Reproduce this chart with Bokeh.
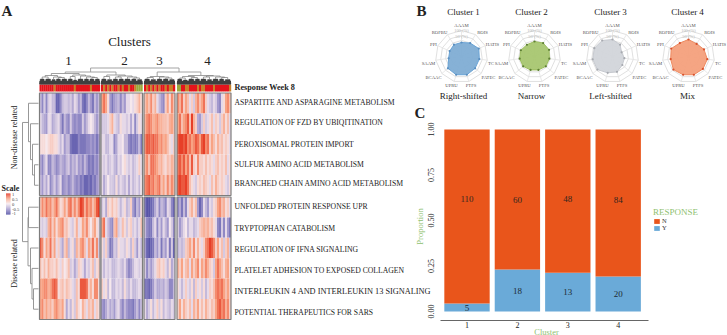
import math
import numpy as np
from bokeh.embed import file_html
from bokeh.resources import INLINE
from bokeh.plotting import figure
from bokeh.layouts import row
from bokeh.core.properties import value
from bokeh.models import (ColumnDataSource, FixedTicker, Legend, LegendItem, LinearAxis,
                          LinearColorMapper, Range1d, NumeralTickFormatter)
from bokeh.transform import transform

# ---------------------------------------------------------------- data
pathways_top = ["ASPARTITE AND ASPARAGINE METABOLISM", "REGULATION OF FZD BY UBIQITINATION",
                "PEROXISOMAL PROTEIN IMPORT", "SULFUR AMINO ACID METABOLISM",
                "BRANCHED CHAIN AMINO ACID METABOLISM"]
pathways_bottom = ["UNFOLDED PROTEIN RESPONSE UPR", "TRYPTOPHAN CATABOLISM", "REGULATION OF IFNA SIGNALING",
                   "PLATELET ADHESION TO EXPOSED COLLAGEN", "INTERLEUKIN 4 AND INTERLEUKIN 13 SIGNALING",
                   "POTENTIAL THERAPEUTICS FOR SARS"]

# enrichment score in tenths, one list per pathway, per cluster
c1_scores = [
 [-3,-6,-2,-6,-2,-1,-3,-3,-8,-8,-6,-3,-2,-2,-3,-2,-4,-1,-2,-5,-3,-7,-8,-6,-3,-5,-7,-3,-5,-3],
 [-1,-3,-4,-5,-1,-1,-4,-3,-2,-1,-4,-7,-3,-5,-6,-2,-5,-6,-5,-6,-6,-2,-5,-3,-1,0,-1,-3,-5,-3],
 [1,1,1,0,1,2,2,1,1,-1,-3,-1,-5,-3,-3,-7,-8,-8,-8,-6,-7,-7,-7,-6,-6,-5,-6,-5,-7,-5],
 [-4,-6,-3,-1,-6,-6,-3,-4,-6,-5,-3,-4,-5,-3,-2,-5,-3,-4,-2,-5,-4,-6,-3,-5,-7,-6,-7,-5,-6,-4],
 [-3,-5,-2,-4,-1,-6,-4,-2,-5,-3,-1,-6,-5,-4,-6,-5,-3,-5,-6,-5,-7,-6,-8,-8,-7,-8,-6,-7,-5,-4],
 [3,6,4,7,5,6,3,5,7,4,1,2,5,2,6,7,3,6,3,6,9,8,4,7,5,6,3,5,8,9],
 [-1,-2,-1,-2,4,6,2,5,1,4,5,6,2,3,1,-1,-2,1,4,-1,1,5,3,6,2,0,3,5,1,-1],
 [8,6,1,5,3,7,2,5,-1,2,-2,-4,2,4,-3,-1,1,-3,4,2,5,6,3,-1,5,3,7,2,6,-2],
 [3,1,3,1,4,2,2,1,3,1,-1,2,0,1,3,-2,-1,-4,-2,2,1,-1,-4,-1,-2,1,3,-2,1,2],
 [5,5,6,6,4,5,7,8,7,1,2,3,1,3,2,1,-1,-2,3,1,8,8,8,7,2,4,1,6,6,1],
 [5,6,3,5,3,4,2,5,6,4,3,5,1,-4,-1,-3,1,-2,3,1,0,4,2,-1,3,2,4,-1,2,1],
]
c2_scores = [
 [5,7,5,1,-5,-7,-5,-4,-3,-6,-3,-5,-1,-1,0,-1,1,2,4,1],
 [-2,-2,-2,-1,2,4,-1,-2,-3,1,-1,-1,-2,-1,-4,-1,-6,-2,1,-1],
 [-1,-1,-3,-3,-1,-1,-6,-4,-1,-1,0,-3,-3,-6,-7,-6,-7,-6,-3,-7],
 [-1,-2,-1,-3,-2,-1,-3,-4,-1,-2,0,1,-1,-2,-1,-3,-2,-1,2,-1],
 [-1,-4,-2,0,-2,-2,-3,1,-3,-1,-2,-3,-1,-4,-1,-3,-2,-1,-3,0],
 [-2,-1,-4,2,1,3,1,2,-1,-3,-1,1,-3,-2,2,-5,-7,-3,-5,1],
 [5,7,-1,-3,-5,-6,3,5,-2,-1,3,1,-2,1,2,-2,-1,-3,-1,3],
 [1,-2,2,-3,-7,-6,-2,-3,1,-1,-1,-2,1,-1,-3,2,-2,-5,-1,-3],
 [-1,-3,-1,-2,-1,-3,-3,-2,-1,-2,-3,-1,-4,-6,-5,-3,-1,-1,-2,-1],
 [2,-1,1,-3,0,-3,-3,-1,-2,-1,-3,1,-2,-3,-1,-3,-3,-2,-1,-2],
 [-5,-6,-4,-2,-4,-3,-5,-2,-1,-4,-6,-3,-5,-6,-6,-7,-5,-3,-6,-3],
]
c3_scores = [
 [3,5,3,6,2,4,-1,-3,-5,-6,2,5,1,6,3],
 [4,6,7,6,4,5,6,4,4,3,3,2,4,5,3],
 [6,8,8,7,8,7,7,5,6,4,5,3,1,-1,2],
 [4,6,3,7,7,6,5,3,4,2,1,3,2,4,3],
 [6,7,8,6,7,5,6,7,3,5,2,6,3,6,4],
 [-7,-9,-9,-8,-7,-4,-2,-6,-3,-4,-6,-1,-2,-6,-8],
 [-3,-6,-7,-7,-3,-1,-6,-2,-5,-1,-3,-5,0,-2,-6],
 [-5,-8,-9,-8,-7,-3,-5,-2,-7,-3,-5,-1,-7,-2,-8],
 [-2,-6,-3,-5,-3,-1,2,3,1,2,-1,-3,1,-4,-2],
 [-7,-7,-8,-7,-5,-2,-4,-4,-3,-4,-2,-3,-6,-6,-3],
 [-1,-4,-2,1,-3,-1,2,-2,1,-3,-1,-2,-3,-1,-2],
]
c4_scores = [
 [6,4,7,2,5,3,-1,2,-2,4,6,3,5,7,2,-1,-2,-3,-1,-2,-5,-6,-1,1,5,6,3],
 [5,7,3,5,6,8,3,9,4,2,-4,-5,-2,2,-2,-1,1,3,-1,2,1,-2,2,4,1,3,-1],
 [8,9,9,8,9,6,7,5,6,8,7,5,8,9,6,7,2,5,3,1,4,2,3,1,2,1,-1],
 [7,8,6,8,5,7,3,8,2,1,6,2,2,1,3,1,2,1,-1,2,3,1,2,1,3,-1,1],
 [8,9,8,8,9,7,3,1,-1,-2,1,2,1,3,2,1,-1,3,1,4,2,1,2,1,-1,-2,1],
 [-6,-4,-7,-3,-6,-1,2,4,1,3,-5,-8,-6,-1,-3,-5,-1,-2,1,2,5,6,3,4,1,2,-1],
 [-2,-5,-3,-1,0,-3,-1,-1,-3,-2,-1,2,3,4,3,4,2,3,1,-1,-6,-7,-2,-6,-1,-5,-7],
 [-3,-2,-3,-2,2,3,5,2,6,1,4,1,-1,2,6,7,9,8,6,2,5,1,3,-2,2,4,-2],
 [4,2,5,1,3,4,-1,5,2,4,6,1,5,3,6,4,2,1,-2,5,7,5,3,1,4,5,1],
 [1,-1,-3,-1,2,-1,-2,1,-3,2,-1,1,-2,1,-3,-1,2,1,3,6,7,6,7,5,3,5,2],
 [2,5,1,4,2,1,3,-1,4,2,5,1,3,1,4,2,1,3,2,5,7,8,6,7,4,6,2],
]
# response week 8 annotation: 0 red, 1 orange, 2 olive
c1_resp = [0,0,0,0,0,0,0,1,0,0,0,0,0,0,0,0,0,1,0,0,0,0,0,0,0,1,0,0,0,0]
c2_resp = [0,1,0,1,0,1,0,0,1,0,1,0,0,1,0,0,1,2,2,2]
c3_resp = [0,1,0,1,0,1,0,1,0,0,1,0,1,1,0]
c4_resp = [2,2,0,0,1,1,0,0,0,0,1,0,1,1,0,0,0,0,1,0,0,0,0,0,0,0,1]

# dendrogram trees: (merge height, left, right); leaf = [relative width, height]
c1_tree = (10.5, (8.5, (7, [5,5], [6,5]), (7, [4,4.5], (6.5, [5,5], [6,5]))),
                 (9, (7.5, [5,5], [4,4]), (8, [6,5], (7, [5,5], (6.5, [5,5], [5,5])))))
c2_tree = (9, (7.5, [5,5], [5,4.5]), (8, (7, [5,5], [5,5]), (7, [6,5], (6, [5,5], [5,4.5]))))
c3_tree = (7.5, (6.5, [6,5], [6,4.5]), (7, [6,5], (6, [6,5], [6,4.5])))
c4_tree = (8.5, (7.5, (6, [5,5], [5,4]), (6.5, [6,5], [5,5])),
                (8, (7, [6,5], [5,4.5]), (7, [6,5], (6.5, [5,5], [6,4.5]))))
row_tree = (17, (11, 0, (9, 1, (7, 2, (5, 3, 4)))),
                (11.5, (11, 5, 6), (9, 7, (7.5, 8, (6, 9, 10)))))

# radar
radar_axes = ["AAAM","ROIS","HATIS","TC","PATEC","PTFS","UPRU","BCAAC","SAAM","PPI","ROFBU"]
radar_c1 = [40,50,65,60,60,65,65,60,35,35,40]
radar_c2 = [45,50,50,45,45,40,40,45,45,45,40]
radar_c3 = [55,40,20,30,35,50,55,70,70,70,65]
radar_c4 = [55,45,55,65,65,65,65,70,60,65,50]
radar_titles = ["Cluster 1","Cluster 2","Cluster 3","Cluster 4"]
radar_names = ["Right-shifted","Narrow","Left-shifted","Mix"]

# stacked bars
clusters = ["1","2","3","4"]
response_n = [110,60,48,84]
response_y = [5,18,13,20]

# ---------------------------------------------------------------- style / layout
FONT = "Liberation Serif"
f = value(FONT)
P = figure(width=727,height=335,x_range=Range1d(0,727),y_range=Range1d(335,0),output_backend="svg",toolbar_location=None,
           x_axis_location=None,y_axis_location=None,min_border=0,outline_line_color=None,
           background_fill_color="white",border_fill_color="white")
P.grid.visible=False

def txt(x, y, s, size, color="#222222", align="left", angle=0, style="normal", **kw):
    P.text([x],[y],text=[s],text_font=f,text_font_size=value(f"{size}px"),text_color=color,
           text_align=align,text_baseline="middle",angle=angle,text_font_style=style,**kw)

stops = [(-1,(0x46,0x44,0xa0)),(-0.5,(0xa3,0x99,0xcd)),(0,(0xf6,0xe9,0xee)),(0.5,(0xf8,0xa4,0x85)),(1,(0xe3,0x28,0x12))]
grid = np.linspace(-1,1,256)
palette = ["#%02x%02x%02x"%tuple(int(round(np.interp(g,[s[0] for s in stops],[s[1][i] for s in stops]))) for i in range(3)) for g in grid]
mapper = LinearColorMapper(palette=palette, low=-1, high=1)

# ---------------------------------------------------------------- A: heatmap
spans = [(39,99.5),(100.5,142),(143.5,174.5),(176.5,230.5)]
all_scores = [c1_scores,c2_scores,c3_scores,c4_scores]
all_resp = [c1_resp,c2_resp,c3_resp,c4_resp]
row_tops = [92.5+i*20.5 for i in range(5)] + [196.5+i*20.4 for i in range(6)]
row_h = [20.5]*5+[20.4]*6
x0,x1,y0,y1,v=[],[],[],[],[]
for (a,b),sc in zip(spans,all_scores):
    for ri,vals in enumerate(sc):
        w=(b-a)/len(vals)
        for i,s in enumerate(vals):
            x0.append(a+i*w); x1.append(min(a+(i+1)*w+0.25,b)); y0.append(row_tops[ri]); y1.append(row_tops[ri]+row_h[ri]); v.append(s/10)
src=ColumnDataSource(dict(x0=x0,x1=x1,y0=y0,y1=y1,v=v))
P.quad(left="x0",right="x1",top="y0",bottom="y1",source=src,fill_color=transform("v",mapper),line_color=None)
for a,b in spans:
    for t,bt in [(92.5,195),(196.5,319)]:
        P.quad(left=[a],right=[b],top=[t],bottom=[bt],fill_alpha=0,line_color="#7d7d7d",line_width=1.2)

resp_colors=["#e3141c","#c9802a","#9aa93c"]
for (a,b),rs in zip(spans,all_resp):
    w=(b-a)/len(rs)
    P.quad(left=[a+i*w for i in range(len(rs))],right=[a+(i+1)*w+0.2 for i in range(len(rs))],top=84,bottom=91,
           fill_color=[resp_colors[k] for k in rs],line_color=None)

BASE=83.5
tx,ty,hx,hy=[],[],[],[]
def walk(node,state,scale):
    if isinstance(node,list):
        w=node[0]*scale; a=state[0]; state[0]+=w; b=state[0]; tp=BASE-node[1]
        hx.append([a,a+.15*w,b-.15*w,b]); hy.append([BASE,tp,tp,BASE])
        return (a+b)/2,node[1]
    H,l,r=node
    pa,ha=walk(l,state,scale); pb,hb=walk(r,state,scale)
    tx.append([pa,pa,pb,pb]); ty.append([BASE-ha,BASE-H,BASE-H,BASE-hb])
    return (pa+pb)/2,H
def leafsum(n):
    return n[0] if isinstance(n,list) else leafsum(n[1])+leafsum(n[2])
tops=[]
for (a,b),t in zip(spans,[c1_tree,c2_tree,c3_tree,c4_tree]):
    tops.append(walk(t,[a],(b-a)/leafsum(t)))
P.patches(hx,hy,fill_color="#3f3f3f",line_color="#3f3f3f",line_width=0.4)
P.quad(left=[s[0] for s in spans],right=[s[1] for s in spans],top=80.5,bottom=84,fill_color="#3f3f3f",line_color=None)
P.multi_line(tx,ty,line_color="#777777",line_width=0.7)
def join(p,q,H):
    return [p[0],p[0],q[0],q[0]],[BASE-p[1],BASE-H,BASE-H,BASE-q[1]],((p[0]+q[0])/2,H)
a1,b1,n12=join(tops[0],tops[1],12); a2,b2,n34=join(tops[2],tops[3],12); a3,b3,_=join(n12,n34,16)
P.multi_line([a1,a2,a3],[b1,b2,b3],line_color="#999999",line_width=0.9)

# row dendrogram
row_y=[t+h/2 for t,h in zip(row_tops,row_h)]
rx,ry=[],[]
def walk_rows(n):
    if isinstance(n,int): return row_y[n],1
    H,l,r=n
    a,ha=walk_rows(l); b,hb=walk_rows(r)
    rx.append([39-ha,39-H,39-H,39-hb]); ry.append([a,a,b,b])
    return (a+b)/2,H
walk_rows(row_tree)
P.multi_line(rx,ry,line_color="#8c8c8c",line_width=0.9)

label_y=[102,122,144,164,183,206,228,249,270,291,312]
for s,y in zip(pathways_top+pathways_bottom,label_y):
    txt(234,y,s,8.3 if s.startswith("INTERLEUKIN") else 7.7)
txt(234,87,"Response Week 8",8.2,style="bold")
txt(129,41,"Clusters",13,align="center")
for s,x in zip(clusters,[68,124,159,207]):
    txt(x,60,s,13,align="center")
txt(1,10,"A",15,style="bold")
txt(14,137,"Non-disease related",8,align="center",angle=math.pi/2)
txt(14,263,"Disease related",8,align="center",angle=math.pi/2)
txt(10,188,"Scale",8,align="center",style="bold")
cb=np.linspace(1,-1,21)
P.quad(left=5.5,right=10,top=[193+i for i in range(21)],bottom=[194.1+i for i in range(21)],fill_color=[palette[int((c+1)/2*255)] for c in cb],line_color=None)
for s,y in zip(["1","0.5","0","-0.5","-1"],[194,199,204,208.5,212.5]):
    txt(11.5,y,s,4.6,color="#444444")

# ---------------------------------------------------------------- B: radars
centers=[461,534,612,688]
title_x=[463,531,610,687]
fills=["#7fadd4","#a8c670","#d2d5da","#f4a07c"]
edges=["#6aa4d6","#9dbe60","#c6c9cf","#ee8a60"]
marks=["#5b8fc0","#5d7f33","#a7aab0","#d8512c"]
cy=56
n=len(radar_axes)
ang=[2*math.pi*i/n for i in range(n)]
rad=lambda val:6+0.2*val
label_dx=[0,21,31,29.5,27,9.5,-10,-28,-33,-28,-22]
label_dy=[-31,-24.5,-12.5,6.5,21,29,29,21,6.5,-12.5,-24.5]
for cx,t,nm,vals,fc,ec,mc,tx0 in zip(centers,radar_titles,radar_names,[radar_c1,radar_c2,radar_c3,radar_c4],fills,edges,marks,title_x):
    rings_x=[[cx+rad(q)*math.sin(a) for a in ang+[0]] for q in (25,50,75,100)]
    rings_y=[[cy-rad(q)*math.cos(a) for a in ang+[0]] for q in (25,50,75,100)]
    P.multi_line(rings_x,rings_y,line_color="#dcdcdc",line_width=0.9)
    P.multi_line([[cx,cx+rad(100)*math.sin(a)] for a in ang],[[cy,cy-rad(100)*math.cos(a)] for a in ang],line_color="#e2e2e2",line_width=0.8)
    px=[cx+rad(q)*math.sin(a) for q,a in zip(vals,ang)]
    py=[cy-rad(q)*math.cos(a) for q,a in zip(vals,ang)]
    P.patch(px,py,fill_color=fc,line_color=ec,line_width=1,fill_alpha=0.95)
    P.scatter(px,py,size=2.2,fill_color=mc,line_color=None)
    for s,dx,dy in zip(radar_axes,label_dx,label_dy):
        txt(cx+dx,cy+dy,s,4.7,color="#555555",align="center")
    txt(cx,30,"100-(%)",4.4,color="#b5b5b5",align="center")
    txt(cx,36,"50-(%)",4.4,color="#b5b5b5",align="center")
    txt(tx0,11,t,9,align="center")
    txt(tx0,95,nm,9,align="center")
txt(416,10,"B",15,style="bold")

# ---------------------------------------------------------------- C: stacked bars
tot=[a+b for a,b in zip(response_n,response_y)]
frac_n=[a/t for a,t in zip(response_n,tot)]
frac_y=[b/t for b,t in zip(response_y,tot)]
pos=[1,2,3,4]
UNIT=50.4
xpx=lambda px:1+(px-466.5)/UNIT
ypx=lambda px:(311-px)/182
P.extra_x_ranges["bar_x"]=Range1d(xpx(0),xpx(727))
P.extra_y_ranges["bar_y"]=Range1d(ypx(335),ypx(0))
ON=dict(x_range_name="bar_x",y_range_name="bar_y")
bar_src=ColumnDataSource(dict(x=pos,N=frac_n,Y=frac_y))
rY,rN=P.vbar_stack(["Y","N"],x="x",width=0.9,source=bar_src,color=["#6aaad8","#e9551b"],line_color=None,**ON)

xax=LinearAxis(fixed_location=ypx(320),ticker=FixedTicker(ticks=pos),major_label_overrides={i:c for i,c in zip(pos,clusters)},
               bounds=(xpx(440),xpx(648)),axis_line_color="#666666",major_tick_line_color=None,minor_tick_line_color=None,
               major_tick_out=0,major_tick_in=0,minor_tick_out=0,minor_tick_in=0,
               major_label_standoff=1,major_label_text_font=FONT,major_label_text_font_size="8px",major_label_text_color="#222222",**ON)
P.add_layout(xax,"below")
yax=LinearAxis(fixed_location=xpx(440),ticker=FixedTicker(ticks=[0,0.25,0.5,0.75,1]),formatter=NumeralTickFormatter(format="0.00"),
               axis_line_color=None,major_tick_line_color=None,minor_tick_line_color=None,major_label_orientation="vertical",
               major_tick_out=0,major_tick_in=0,minor_tick_out=0,minor_tick_in=0,
               major_label_standoff=7,major_label_text_font=FONT,major_label_text_font_size="8px",major_label_text_color="#222222",**ON)
P.add_layout(yax,"left")

n_label_y=[0.62,0.615,0.62,0.615]
for x,a,b,fy,ny in zip(pos,response_n,response_y,frac_y,n_label_y):
    txt(x,ny,str(a),9,color="#33261f",align="center",**ON)
    txt(x,fy/2,str(b),9,color="#1f2a33",align="center",**ON)
leg=Legend(items=[LegendItem(label="N",renderers=[rN]),LegendItem(label="Y",renderers=[rY])],
           title="RESPONSE",location=(653,104),orientation="vertical",
           title_text_font=FONT,title_text_font_size="9px",title_text_color="#8fbf70",title_text_font_style="normal",title_standoff=0,
           label_text_font=FONT,label_text_font_size="6.5px",label_text_color="#333333",label_standoff=2,label_height=6,
           glyph_width=7,glyph_height=6,spacing=0,padding=0,margin=0,background_fill_alpha=0,border_line_color=None)
P.add_layout(leg,"center")
txt(419,226,"Proportion",8.5,color="#8fbf70",align="center",angle=math.pi/2)
txt(546,331,"Cluster",8.5,color="#8fbf70",align="center")
txt(414,112,"C",15,style="bold")

page=row(P,spacing=0,styles={"position":"absolute","left":"0px","top":"0px"})
open("out.html","w").write(file_html(page,INLINE))
